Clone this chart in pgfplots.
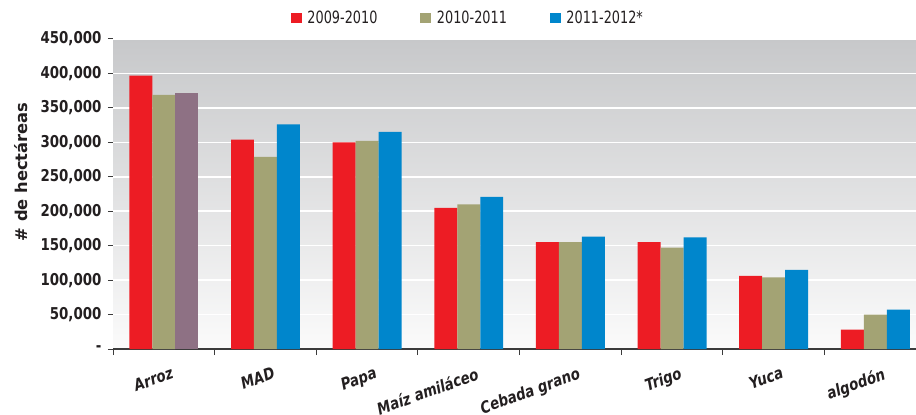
\documentclass[border=0pt]{standalone}
\usepackage{fontspec}
\setmainfont{DejaVu Sans}[FakeStretch=0.82]
\newfontfamily\labfont{DejaVu Sans}
\newfontfamily\legfont{DejaVu Sans}[FakeStretch=0.76]
\usepackage{pgfplots}
\pgfplotsset{compat=1.18}
\definecolor{cred}{RGB}{237,28,36}
\definecolor{colive}{RGB}{163,163,116}
\definecolor{cblue}{RGB}{0,134,204}
\definecolor{cpurple}{RGB}{142,113,132}
\definecolor{bgtop}{RGB}{199,200,202}
\definecolor{bgbot}{RGB}{251,251,251}
\definecolor{axisgray}{RGB}{60,60,60}
\definecolor{txt}{RGB}{35,31,32}
\begin{document}
\begin{tikzpicture}
\begin{axis}[
  scale only axis, width=803pt, height=310pt,
  xmin=-0.5, xmax=7.4, ymin=0, ymax=450000,
  scaled y ticks=false,
  ybar, bar width=0.226,
  axis background/.style={shade, top color=bgtop, bottom color=bgbot},
  axis x line*=bottom, axis y line*=left,
  x axis line style={-, axisgray, line width=1.3pt},
  y axis line style={draw=none},
  tick align=outside,
  xtick={0,...,7},
  xticklabels={Arroz,MAD,Papa,Maíz amiláceo,Cebada grano,Trigo,Yuca,algodón},
  major x tick style={draw=none},
  minor xtick={-0.5,0.5,...,6.5},
  minor x tick style={axisgray, line width=1pt},
  minor tick length=6pt, major tick length=5pt,
  ytick={0,50000,...,450000},
  yticklabels={-,{50,000},{100,000},{150,000},{200,000},{250,000},{300,000},{350,000},{400,000},{450,000}},
  y tick style={axisgray, line width=1pt},
  ymajorgrids, grid style={white, line width=1.5pt},
  xticklabel style={font=\bfseries\itshape\fontsize{16.3}{16}\selectfont, text=txt, rotate=20, anchor=north east, inner sep=0pt, xshift=2pt, yshift=-14pt},
  yticklabel style={font=\bfseries\fontsize{16.3}{16}\selectfont, text=txt, xshift=-3pt},
  ylabel={\# de hectáreas},
  every axis y label/.style={at={(axis description cs:-0.1146,0.571)}, rotate=90, anchor=center,
    font=\labfont\bfseries\fontsize{16.3}{17}\selectfont, text=txt},
  legend columns=3,
  legend style={at={(axis description cs:0.442,1.068)}, anchor=center, draw=none, fill=none,
    font=\legfont\fontsize{16.9}{17}\selectfont, text=txt,
    /tikz/every even column/.append style={column sep=41pt}},
  legend image code/.code={\fill[#1] (0pt,-5.35pt) rectangle (10.7pt,5.35pt); \path (14.5pt,0pt);},
]
\addplot[fill=cred, draw=none, bar shift=-0.226] coordinates {(0,397000) (1,304000) (2,300000) (3,205000) (4,155000) (5,155000) (6,106000) (7,28000)};
\addplot[fill=colive, draw=none, bar shift=0] coordinates {(0,369000) (1,279000) (2,302000) (3,210000) (4,155000) (5,147000) (6,104000) (7,50000)};
\addplot[fill=cblue, draw=none, bar shift=0.226] coordinates {(1,326000) (2,315000) (3,221000) (4,163000) (5,162000) (6,115000) (7,57000)};
\addplot[fill=cpurple, draw=none, bar shift=0.226, forget plot] coordinates {(0,372000)};
\legend{2009-2010,2010-2011,2011-2012*}
\end{axis}
\pgfresetboundingbox
\path[use as bounding box] ([xshift=-113pt,yshift=-65pt]current axis.south west) rectangle ([yshift=39pt]current axis.north east);
\end{tikzpicture}
\end{document}
